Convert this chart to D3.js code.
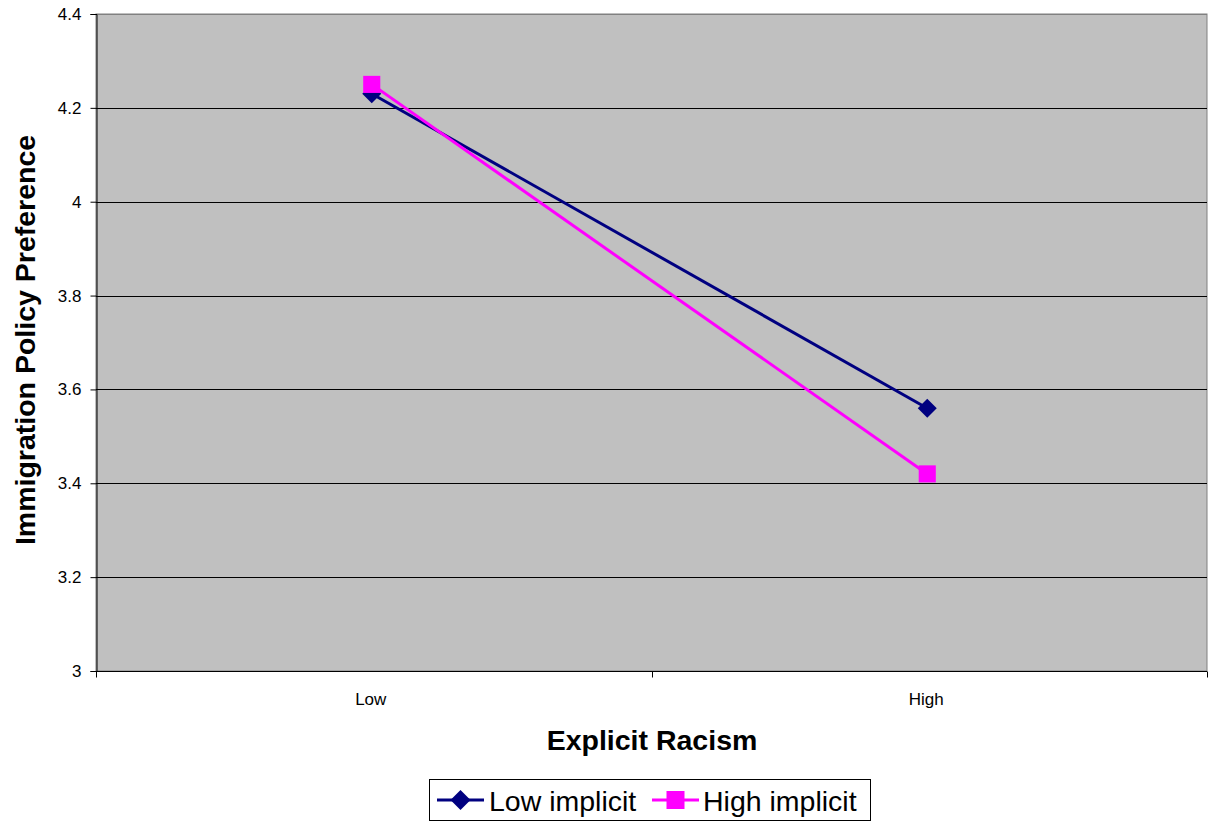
<!DOCTYPE html>
<html>
<head>
<meta charset="utf-8">
<script src="https://cdn.jsdelivr.net/npm/d3@7"></script>
<style>
  body { margin: 0; background: #fff; }
  svg { display: block; font-family: "Liberation Sans", Arial, sans-serif; }
</style>
</head>
<body>
<svg id="chart" width="1214" height="822"></svg>
<script>
// Categories on the x axis
const categories = ["Low", "High"];
// Series values
const seriesNames = ["Low implicit", "High implicit"];
const lowImplicit = [4.23, 3.56];
const highImplicit = [4.25, 3.42];
const seriesColors = ["#000080", "#FF00FF"];
// Y tick labels
const yTicks = [3, 3.2, 3.4, 3.6, 3.8, 4, 4.2, 4.4];

const svg = d3.select("#chart");
const margin = { left: 96, right: 7, top: 14, bottom: 151 };
const W = 1214, H = 822;
const pw = W - margin.left - margin.right;
const ph = H - margin.top - margin.bottom;

const g = svg.append("g").attr("transform", `translate(${margin.left},${margin.top})`);

const x = d3.scaleBand().domain(categories).range([0, pw]);
const y = d3.scaleLinear().domain([3, 4.4]).range([ph, 0]);

// Plot background
g.append("rect").attr("x", 0).attr("y", 0).attr("width", pw).attr("height", ph)
  .attr("fill", "#C0C0C0").attr("stroke", "#808080").attr("stroke-width", 1);

// Horizontal gridlines
g.append("g").selectAll("line").data(yTicks.slice(1)).join("line")
  .attr("x1", 0).attr("x2", pw)
  .attr("y1", d => Math.round(y(d)) + 0.5).attr("y2", d => Math.round(y(d)) + 0.5)
  .attr("stroke", d => d === 4.4 ? "#808080" : "#000").attr("stroke-width", 1);

// Y axis
const yAxis = g.append("g").attr("transform", "translate(0.5,0)")
  .call(d3.axisLeft(y).tickValues(yTicks).tickSize(6).tickPadding(9)
    .tickFormat(d => d3.format("")(+d.toFixed(1))));
yAxis.select(".domain").attr("stroke", "#000");
yAxis.selectAll(".tick line").attr("stroke", "#000");
yAxis.selectAll(".tick text").attr("font-size", 17).attr("fill", "#000")
  .attr("font-family", "'Liberation Sans', Arial, sans-serif");

// X axis with ticks between categories
const xAxisG = g.append("g").attr("transform", `translate(0,${Math.round(ph) + 0.5})`);
xAxisG.append("line").attr("x1", 0).attr("x2", pw).attr("stroke", "#000");
const boundaries = [0, ...categories.map(c => x(c) + x.bandwidth())];
xAxisG.selectAll("line.tk").data(boundaries).join("line").attr("class", "tk")
  .attr("x1", d => Math.round(d) + 0.5).attr("x2", d => Math.round(d) + 0.5)
  .attr("y1", 0).attr("y2", 6).attr("stroke", "#000");
xAxisG.selectAll("text").data(categories).join("text")
  .attr("x", d => x(d) + x.bandwidth() / 2 - 3).attr("y", 33)
  .attr("text-anchor", "middle").attr("font-size", 17).attr("fill", "#000")
  .text(d => d);

// Axis titles
svg.append("text").attr("x", 652).attr("y", 750).attr("text-anchor", "middle")
  .attr("font-size", 28.5).attr("font-weight", "bold").text("Explicit Racism");
svg.append("text").attr("transform", "translate(35,340) rotate(-90)")
  .attr("text-anchor", "middle").attr("font-size", 28.5).attr("font-weight", "bold")
  .text("Immigration Policy Preference");

// Series lines and markers
const allSeries = [lowImplicit, highImplicit];
const cx = c => x(c) + x.bandwidth() / 2 - 2;
const line = d3.line().x((d, i) => cx(categories[i])).y(d => y(d));

function drawMarker(sel, idx, px, py, s) {
  if (idx === 0) {
    sel.append("path")
      .attr("d", `M${px},${py - s}L${px + s},${py}L${px},${py + s}L${px - s},${py}Z`)
      .attr("fill", seriesColors[0]);
  } else {
    const h = s * 0.9;
    sel.append("rect").attr("x", px - h).attr("y", py - h)
      .attr("width", 2 * h).attr("height", 2 * h).attr("fill", seriesColors[1]);
  }
}

allSeries.forEach((vals, si) => {
  g.append("path").datum(vals).attr("d", line)
    .attr("fill", "none").attr("stroke", seriesColors[si]).attr("stroke-width", 3);
});
allSeries.forEach((vals, si) => {
  vals.forEach((v, i) => drawMarker(g, si, cx(categories[i]), y(v), 9.5));
});

// Legend
const leg = svg.append("g");
leg.append("rect").attr("x", 429.5).attr("y", 779.5).attr("width", 441).attr("height", 41)
  .attr("fill", "#fff").attr("stroke", "#000").attr("stroke-width", 1);
const legItems = [
  { x0: 437, tx: 489 },
  { x0: 652, tx: 703 }
];
seriesNames.forEach((name, i) => {
  const it = legItems[i];
  const ly = 800;
  leg.append("line").attr("x1", it.x0).attr("x2", it.x0 + 47).attr("y1", ly).attr("y2", ly)
    .attr("stroke", seriesColors[i]).attr("stroke-width", 3);
  drawMarker(leg, i, it.x0 + 23.5, ly, 10);
  leg.append("text").attr("x", it.tx).attr("y", 811).attr("font-size", 28.5)
    .attr("fill", "#000").text(name);
});
</script>
</body>
</html>
